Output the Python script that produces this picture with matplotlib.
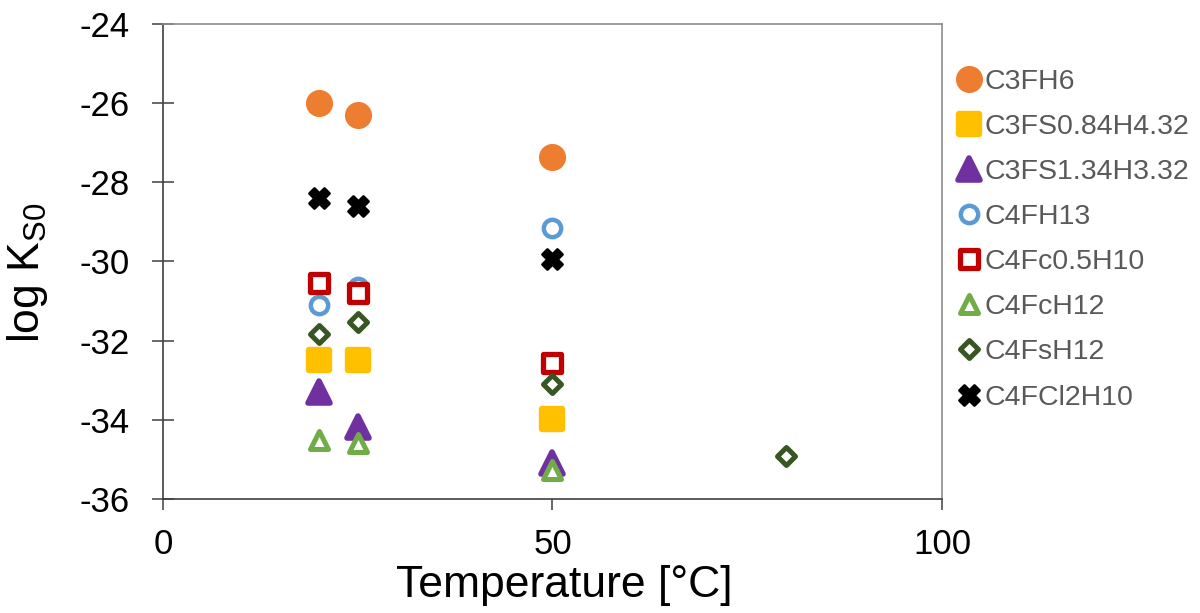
import matplotlib.pyplot as plt
from matplotlib.markers import MarkerStyle

plt.rcParams['font.family'] = ['Liberation Sans', 'DejaVu Sans']
plt.rcParams['mathtext.fontset'] = 'custom'
plt.rcParams['mathtext.rm'] = 'Liberation Sans'
plt.rcParams['mathtext.it'] = 'Liberation Sans:italic'
plt.rcParams['axes.unicode_minus'] = False

# solubility products (log K_S0) of the Fe-containing phases vs temperature
labels = ['C3FH6', 'C3FS0.84H4.32', 'C3FS1.34H3.32', 'C4FH13',
          'C4Fc0.5H10', 'C4FcH12', 'C4FsH12', 'C4FCl2H10']

temp_c3fh6 = [20, 25, 50]
logk_c3fh6 = [-26.0, -26.3, -27.35]

temp_c3fs084 = [20, 25, 50]
logk_c3fs084 = [-32.49, -32.49, -33.99]

temp_c3fs134 = [20, 25, 50]
logk_c3fs134 = [-33.3, -34.17, -35.1]

temp_c4fh13 = [20, 25, 50]
logk_c4fh13 = [-31.1, -30.64, -29.15]

temp_c4fc05 = [20, 25, 50]
logk_c4fc05 = [-30.54, -30.8, -32.57]

temp_c4fch12 = [20, 25, 50]
logk_c4fch12 = [-34.51, -34.59, -35.27]

temp_c4fsh12 = [20, 25, 50, 80]
logk_c4fsh12 = [-31.83, -31.54, -33.1, -34.91]

temp_c4fcl2 = [20, 25, 50]
logk_c4fcl2 = [-28.4, -28.59, -29.94]

series = [
    (temp_c3fh6, logk_c3fh6),
    (temp_c3fs084, logk_c3fs084),
    (temp_c3fs134, logk_c3fs134),
    (temp_c4fh13, logk_c4fh13),
    (temp_c4fc05, logk_c4fc05),
    (temp_c4fch12, logk_c4fch12),
    (temp_c4fsh12, logk_c4fsh12),
    (temp_c4fcl2, logk_c4fcl2),
]

# marker, size, edge width, face colour, edge colour
styles = [
    ('o', 19.5, 0, '#ED7D31', '#ED7D31'),
    ('s', 15, 4.6, '#FFC000', '#FFC000'),
    ('^', 16, 4, '#7030A0', '#7030A0'),
    ('o', 12.5, 3.2, 'white', '#5B9BD5'),
    ('s', 12.5, 3.8, 'white', '#C00000'),
    ('^', 12.5, 3.6, 'white', '#70AD47'),
    ('D', 9.5, 3.6, 'white', '#375623'),
    ('X', 15, 2, 'black', 'black'),
]

fig = plt.figure(figsize=(12, 6.13), dpi=100)
ax = fig.add_axes([0.1358, 0.186, 0.6492, 0.7749])

handles = []
for (t, k), (mk, ms, mew, fc, ec) in zip(series, styles):
    h, = ax.plot(t, k, linestyle='none',
                 marker=MarkerStyle(mk, joinstyle='round'),
                 markersize=ms, markeredgewidth=mew,
                 markerfacecolor=fc, markeredgecolor=ec, clip_on=False)
    handles.append(h)

ax.set_xlim(0, 100)
ax.set_ylim(-36, -24)
ax.set_xticks([0, 50, 100])
ax.set_yticks(range(-36, -23, 2))

for side in ['left', 'bottom']:
    ax.spines[side].set_color('#404040')
for side in ['top', 'right']:
    ax.spines[side].set_color('#8c8c8c')
for s in ax.spines.values():
    s.set_linewidth(1.2)

ax.tick_params(axis='y', direction='inout', length=16, width=1.1,
               color='#404040', labelsize=25, pad=16)
ax.tick_params(axis='x', direction='out', length=8, width=1.1,
               color='#404040', labelsize=25, pad=13)

fig.text(564 / 1200, 1 - 585 / 613, 'Temperature [°C]', fontsize=32,
         ha='center', va='center')
fig.text(27 / 1200, 1 - 273 / 613, r'log K$_{\mathrm{S0}}$', fontsize=32,
         rotation=90, ha='center', va='center')

leg = ax.legend(handles, labels, loc='upper left',
                bbox_to_anchor=(956 / 1200, 1 - 69 / 613),
                bbox_transform=fig.transFigure, frameon=False,
                fontsize=20.5, labelcolor='#595959', numpoints=1,
                handlelength=0.9, handletextpad=0.1, labelspacing=0.67,
                borderpad=0, borderaxespad=0)

fig.savefig('out.png', dpi=100)
